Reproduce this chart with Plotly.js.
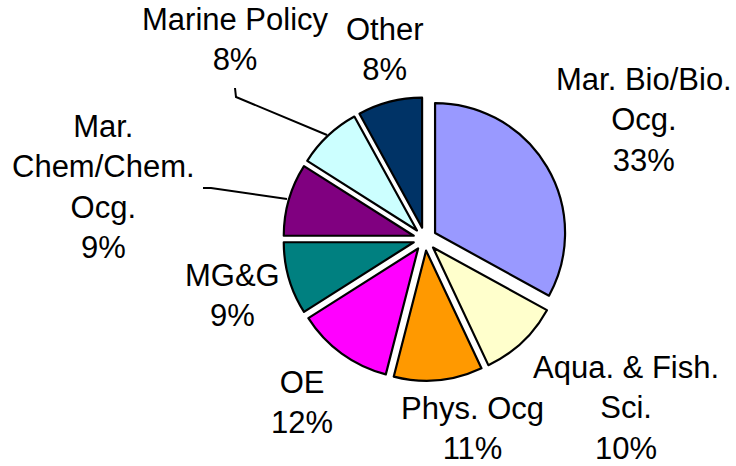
<!DOCTYPE html>
<html>
<head>
<meta charset="utf-8">
<script src="https://cdn.plot.ly/plotly-3.0.1.min.js"></script>
<style>html,body{margin:0;padding:0;background:#fff;}#chart{width:736px;height:466px;}</style>
</head>
<body>
<div id="chart"></div>
<script>
const categories = ["Mar. Bio/Bio. Ocg.", "Aqua. & Fish. Sci.", "Phys. Ocg", "OE", "MG&G", "Mar. Chem/Chem. Ocg.", "Marine Policy", "Other"];
const displayLabels = ["Mar. Bio/Bio.<br>Ocg.", "Aqua. & Fish.<br>Sci.", "Phys. Ocg", "OE", "MG&G", "Mar.<br>Chem/Chem.<br>Ocg.", "Marine Policy", "Other"];
const percents = [33, 10, 11, 12, 9, 9, 8, 8];
const colors = ["#9999FF", "#FFFFCC", "#FF9900", "#FF00FF", "#008080", "#800080", "#CCFFFF", "#003366"];

// label placement (pixel centers) - layout only
const labelPos = [[644,120],[626,408],[472,428],[302,402],[232,295],[103,187],[235,40],[385,50]];

const W = 736, H = 466;
const cx = 425, cy = 239, outer = 141.7;

const trace = {
  type: 'pie',
  labels: categories,
  values: percents,
  sort: false,
  direction: 'clockwise',
  rotation: 0,
  pull: percents.map(() => 0.09),
  marker: {colors: colors, line: {color: '#000000', width: 2.2}},
  textinfo: 'none',
  hoverinfo: 'label+percent',
  showlegend: false,
  domain: {x: [(cx - outer)/W, (cx + outer)/W], y: [(H - cy - outer)/H, (H - cy + outer)/H]}
};

const annotations = displayLabels.map((lab, i) => ({
  xref: 'paper', yref: 'paper',
  x: labelPos[i][0]/W, y: 1 - labelPos[i][1]/H,
  xanchor: 'center', yanchor: 'middle',
  text: lab + '<br>' + percents[i] + '%',
  showarrow: false,
  align: 'center',
  font: {family: 'Arial, "Liberation Sans", sans-serif', size: 31, color: '#000000'}
}));

function px(x){return x/W;}
function py(y){return 1 - y/H;}
const shapes = [
  {type:'path', xref:'paper', yref:'paper',
   path: `M ${px(235)} ${py(88)} L ${px(236)} ${py(97)} L ${px(327)} ${py(135)}`,
   line:{color:'#000', width:2}},
  {type:'path', xref:'paper', yref:'paper',
   path: `M ${px(203)} ${py(188)} L ${px(211)} ${py(188)} L ${px(287)} ${py(199)}`,
   line:{color:'#000', width:2}}
];

const layout = {
  width: W, height: H,
  margin: {l:0, r:0, t:0, b:0},
  paper_bgcolor: '#ffffff',
  plot_bgcolor: '#ffffff',
  annotations: annotations,
  shapes: shapes,
  font: {family: 'Arial, "Liberation Sans", sans-serif'}
};

Plotly.newPlot('chart', [trace], layout, {displayModeBar: false, staticPlot: true});
</script>
</body>
</html>
